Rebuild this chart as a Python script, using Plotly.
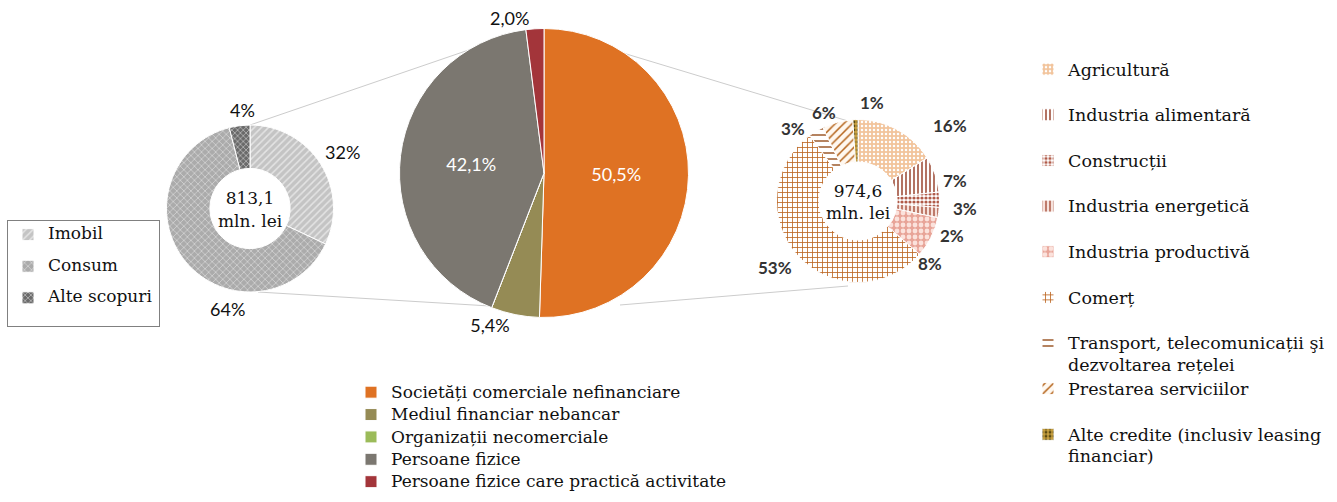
import plotly.graph_objects as go

W, H = 1337, 502

# credit by purpose (persoane fizice)
purpose_labels = ['Imobil', 'Consum', 'Alte scopuri']
purpose_values = [32, 64, 4]
purpose_total = '813,1'

# credit by debtor category
sector_labels = ['Societăți comerciale nefinanciare', 'Mediul financiar nebancar',
                 'Organizații necomerciale', 'Persoane fizice',
                 'Persoane fizice care practică activitate']
sector_values = [50.5, 5.4, 0.0, 42.1, 2.0]

# credit by branch (societăți comerciale)
branch_labels = ['Agricultură', 'Industria alimentară', 'Construcții', 'Industria energetică',
                 'Industria productivă', 'Comerț',
                 'Transport, telecomunicații şi<br>dezvoltarea rețelei',
                 'Prestarea serviciilor', 'Alte credite (inclusiv leasing<br>financiar)']
branch_values = [16, 7, 3, 2, 8, 53, 3, 6, 1]
branch_total = '974,6'

# where the outside percent labels sit (px), as in the original layout
purpose_label_pos = [(342, 152), (227, 309), (242, 110)]
branch_label_pos = [(950, 125), (955, 180), (965, 208), (952, 235), (930, 263),
                    (775, 267), (793, 128), (824, 112), (872, 102)]


def dom(cx, cy, r):
    # pixel circle -> paper domain
    return dict(x=[(cx - r) / W, (cx + r) / W], y=[1 - (cy + r) / H, 1 - (cy - r) / H])


def sized(text, px):
    return "<br>".join(f"<span style='font-size:{px}px'>{t}</span>" for t in text.split('<br>'))


serif = 'DejaVu Serif'
sans = 'Lato'

fig = go.Figure()

purpose_colors = ['#c4c4c4', '#ababab', '#6a6a6a']
fig.add_trace(go.Pie(
    labels=[sized(l, 17) + '<br> ' for l in purpose_labels],
    values=purpose_values, sort=False, direction='clockwise', rotation=0,
    hole=0.48, domain=dom(250, 208.5, 83.5),
    marker=dict(colors=purpose_colors,
                line=dict(color='white', width=1),
                pattern=dict(shape=['/', 'x', 'x'], bgcolor=purpose_colors,
                             fgcolor=['#e4e4e4', '#d2d2d2', '#b0b0b0'],
                             size=[5, 5, 4], solidity=[0.3, 0.3, 0.4])),
    textinfo='none', hoverinfo='label+percent',
    title=dict(text=purpose_total + '<br>mln. lei', position='middle center',
               font=dict(family=serif, size=17, color='#111')),
    legend='legend',
))

fig.add_trace(go.Pie(
    labels=[sized(l, 17) for l in sector_labels],
    values=sector_values, sort=False, direction='clockwise', rotation=0,
    domain=dom(544, 173, 144.5),
    marker=dict(colors=['#df7223', '#958b55', '#9bbb59', '#7b7770', '#a3353a'],
                line=dict(color='white', width=1)),
    texttemplate=['%{value:.1f}%', '%{value:.1f}%', '', '%{value:.1f}%', '%{value:.1f}%'],
    textposition=['inside', 'outside', 'none', 'inside', 'outside'],
    insidetextorientation='horizontal',
    textfont=dict(family=sans, size=18, color=['white', '#111', '#111', 'white', '#111']),
    legend='legend2',
))

branch_bg = ['#f2c49c', '#ffffff', '#ffffff', '#f6e2dc', '#e8a498', '#ffffff',
             '#ffffff', '#fff8f0', '#c8a040']
branch_fg = ['#ffffff', '#a0503c', '#b05a48', '#b0604e', '#fbe2dc',
             '#bb6420', '#9c5a2a', '#b5651d', '#5b4a10']
fig.add_trace(go.Pie(
    labels=[sized(l, 17.5) + ('' if '<br>' in l else '<br> ') for l in branch_labels],
    values=branch_values, sort=False, direction='clockwise', rotation=0,
    hole=0.48, domain=dom(858, 201, 81.5),
    marker=dict(colors=branch_bg,
                line=dict(color='white', width=1),
                pattern=dict(shape=['.', '|', '.', '|', '.', '+', '-', '/', '.'],
                             bgcolor=branch_bg, fgcolor=branch_fg,
                             size=[4, 4, 4, 4, 6, 5, 6, 6, 4],
                             solidity=[0.3, 0.4, 0.5, 0.4, 0.5, 0.3, 0.25, 0.25, 0.4])),
    textinfo='none', hoverinfo='label+percent',
    title=dict(text=branch_total + '<br>mln. lei', position='middle center',
               font=dict(family=serif, size=17, color='#111')),
    legend='legend3',
))

for v, (px, py) in zip(purpose_values, purpose_label_pos):
    fig.add_annotation(x=px / W, y=1 - py / H, xref='paper', yref='paper', text=f'{v}%',
                       xanchor='center', yanchor='middle', showarrow=False,
                       font=dict(family=sans, size=18, color='#111'))
for v, (px, py) in zip(branch_values, branch_label_pos):
    fig.add_annotation(x=px / W, y=1 - py / H, xref='paper', yref='paper', text=f'<b>{v}%</b>',
                       xanchor='center', yanchor='middle', showarrow=False,
                       font=dict(family=sans, size=17, color='#333'))

# connector lines between the pies
line_style = dict(color='#cccccc', width=1)
for x0, y0, x1, y1 in [(250, 125, 527, 30), (258, 292, 490, 306),
                       (547, 30, 848, 121), (620, 305, 848, 286)]:
    fig.add_shape(type='line', xref='paper', yref='paper', layer='below',
                  x0=x0 / W, y0=1 - y0 / H, x1=x1 / W, y1=1 - y1 / H, line=line_style)

fig.update_layout(
    width=W, height=H, paper_bgcolor='white', plot_bgcolor='white',
    margin=dict(l=0, r=0, t=0, b=0, autoexpand=False),
    separators=',.',
    showlegend=True,
    legend=dict(x=7 / W, y=1 - 220 / H, xanchor='left', yanchor='top', valign='top',
                bordercolor='#808080', borderwidth=1,
                font=dict(family=serif, size=11, color='#111')),
    legend2=dict(x=351 / W, y=1 - 376 / H, xanchor='left', yanchor='top',
                 font=dict(family=serif, size=14.9, color='#111')),
    legend3=dict(x=1028 / W, y=1 - 52 / H, xanchor='left', yanchor='top', valign='top',
                 font=dict(family=serif, size=16.4, color='#111')),
)

fig.write_html("out.html", config={'displayModeBar': False},
               post_script="document.body.style.margin='0';")
